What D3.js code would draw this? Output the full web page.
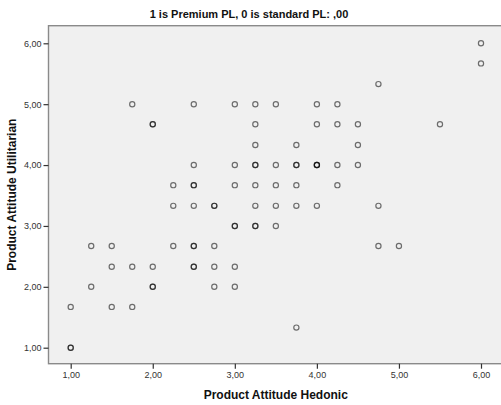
<!DOCTYPE html>
<html>
<head>
<meta charset="utf-8">
<script src="https://cdnjs.cloudflare.com/ajax/libs/d3/7.8.5/d3.min.js"></script>
<style>
  html, body { margin: 0; padding: 0; background: #ffffff; }
  svg { display: block; font-family: "Liberation Sans", Arial, sans-serif; }
</style>
</head>
<body>
<svg id="chart" width="501" height="405"></svg>
<script>
// Hedonic (x) and utilitarian (y) product attitude scores, one entry per respondent
const hedonic = [
  1.00, 1.00, 1.00, 1.50, 1.75,
  1.25, 2.00, 2.00, 2.75, 3.00,
  1.50, 1.75, 2.00, 2.50, 2.50, 2.75, 3.00,
  1.25, 1.50, 2.25, 2.50, 2.50, 2.75, 4.75, 5.00,
  3.00, 3.00, 3.25, 3.25, 3.50,
  2.25, 2.50, 2.75, 2.75, 3.25, 3.50, 3.75, 4.00, 4.75,
  2.25, 2.50, 2.50, 3.00, 3.25, 3.50, 3.75, 4.25,
  2.50, 3.00, 3.25, 3.25, 3.50, 3.75, 3.75, 4.00, 4.00, 4.00, 4.25, 4.50,
  3.25, 3.75, 4.50,
  2.00, 2.00, 3.25, 4.00, 4.25, 4.50, 5.50,
  1.75, 2.50, 3.00, 3.25, 3.50, 4.00, 4.25,
  4.75, 6.00, 6.00,
  3.75
];
const utilitarian = [
  1.00, 1.00, 1.67, 1.67, 1.67,
  2.00, 2.00, 2.00, 2.00, 2.00,
  2.33, 2.33, 2.33, 2.33, 2.33, 2.33, 2.33,
  2.67, 2.67, 2.67, 2.67, 2.67, 2.67, 2.67, 2.67,
  3.00, 3.00, 3.00, 3.00, 3.00,
  3.33, 3.33, 3.33, 3.33, 3.33, 3.33, 3.33, 3.33, 3.33,
  3.67, 3.67, 3.67, 3.67, 3.67, 3.67, 3.67, 3.67,
  4.00, 4.00, 4.00, 4.00, 4.00, 4.00, 4.00, 4.00, 4.00, 4.00, 4.00, 4.00,
  4.33, 4.33, 4.33,
  4.67, 4.67, 4.67, 4.67, 4.67, 4.67, 4.67,
  5.00, 5.00, 5.00, 5.00, 5.00, 5.00, 5.00,
  5.33, 5.67, 6.00,
  1.33
];
const tickValues = [1, 2, 3, 4, 5, 6];
const titleText = "1 is Premium PL, 0 is standard PL: ,00";
const xTitle = "Product Attitude Hedonic";
const yTitle = "Product Attitude Utilitarian";

const svg = d3.select("#chart");
const plot = { left: 48.5, top: 25.7, right: 503, bottom: 363.7 };

const x = d3.scaleLinear().domain([1, 6]).range([70.7, 481]);
const y = d3.scaleLinear().domain([1, 6]).range([347.7, 43.3]);

const fmt = d => d.toFixed(2).replace(".", ",");

// plot background and frame
svg.append("rect")
  .attr("x", plot.left).attr("y", plot.top)
  .attr("width", plot.right - plot.left).attr("height", plot.bottom - plot.top)
  .attr("fill", "#f0f0f0")
  .attr("stroke", "#8a8a8a").attr("stroke-width", 1.4);

// axes
const xAxis = svg.append("g")
  .attr("transform", `translate(0,${plot.bottom})`)
  .call(d3.axisBottom(x).tickValues(tickValues).tickFormat(fmt).tickSize(5).tickPadding(3));
const yAxis = svg.append("g")
  .attr("transform", `translate(${plot.left},0)`)
  .call(d3.axisLeft(y).tickValues(tickValues).tickFormat(fmt).tickSize(5).tickPadding(2));

[xAxis, yAxis].forEach(g => {
  g.select(".domain").remove();
  g.selectAll(".tick line").attr("stroke", "#333").attr("stroke-width", 1.2);
  g.selectAll(".tick text")
    .attr("fill", "#333")
    .style("font-size", "9px")
    .style("font-family", "'Liberation Sans', Arial, sans-serif");
});

// scatter points
const pts = hedonic.map((h, i) => ({ h, u: utilitarian[i] }));
svg.append("g")
  .selectAll("circle")
  .data(pts)
  .join("circle")
  .attr("cx", d => x(d.h))
  .attr("cy", d => y(d.u))
  .attr("r", 2.6)
  .attr("fill", "none")
  .attr("stroke", "#000")
  .attr("stroke-opacity", 0.55)
  .attr("stroke-width", 1.2);

// titles
svg.append("text")
  .attr("x", 249).attr("y", 18)
  .attr("text-anchor", "middle")
  .style("font-size", "11px").style("font-weight", "bold")
  .attr("fill", "#111")
  .text(titleText);

svg.append("text")
  .attr("x", (plot.left + plot.right) / 2).attr("y", 399)
  .attr("text-anchor", "middle")
  .style("font-size", "12px").style("font-weight", "bold")
  .attr("fill", "#111")
  .text(xTitle);

svg.append("text")
  .attr("transform", `translate(16,${(plot.top + plot.bottom) / 2}) rotate(-90)`)
  .attr("text-anchor", "middle")
  .style("font-size", "12px").style("font-weight", "bold")
  .attr("fill", "#111")
  .text(yTitle);
</script>
</body>
</html>
